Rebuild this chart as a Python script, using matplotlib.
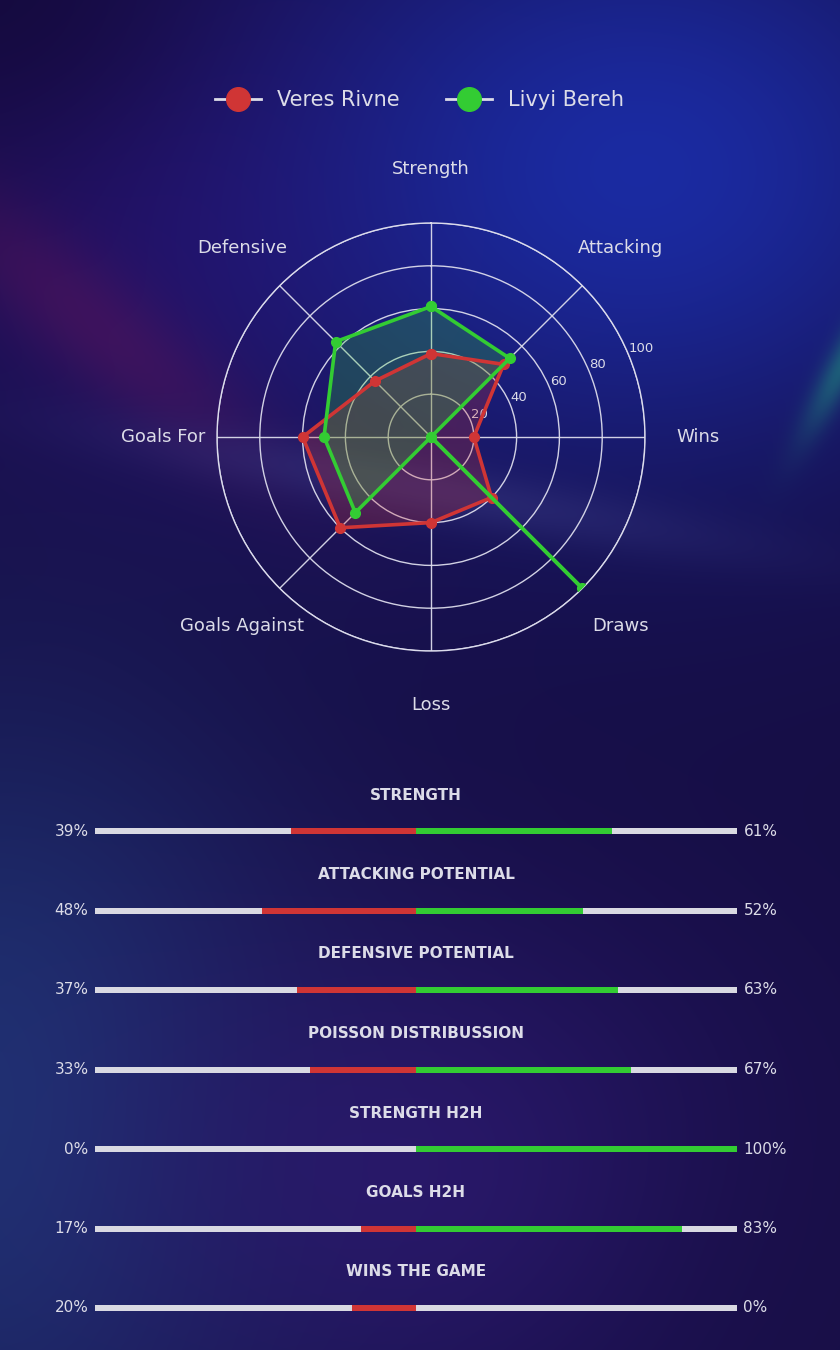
import numpy as np
import matplotlib
matplotlib.use('Agg')
import matplotlib.pyplot as plt
from matplotlib.lines import Line2D
from matplotlib.colors import to_rgb

# radar data
categories = ['Strength', 'Attacking', 'Wins', 'Draws', 'Loss',
              'Goals Against', 'Goals For', 'Defensive']
veres = [39, 48, 20, 40, 40, 60, 60, 37]
livyi = [61, 52, 0, 100, 0, 50, 50, 63]
teams = ['Veres Rivne', 'Livyi Bereh']

# comparison bars
bar_titles = ['STRENGTH', 'ATTACKING POTENTIAL', 'DEFENSIVE POTENTIAL',
              'POISSON DISTRIBUSSION', 'STRENGTH H2H', 'GOALS H2H', 'WINS THE GAME']
left_pct = [39, 48, 37, 33, 0, 17, 20]
right_pct = [61, 52, 63, 67, 100, 83, 0]

RED = '#d03535'
GREEN = '#33cc33'
TXT = '#dcdce8'
GRID = '#dcdcec'

W, H = 840, 1350
fig = plt.figure(figsize=(W / 100, H / 100), dpi=100)

# ---- background ----
yy, xx = np.mgrid[0:H, 0:W].astype(float)
img = np.ones((H, W, 3)) * np.array(to_rgb('#160e45'))


def blob(cx, cy, sx, sy, color, a, ang=0.0):
    global img
    t = np.deg2rad(ang)
    dx, dy = xx - cx, yy - cy
    u = dx * np.cos(t) + dy * np.sin(t)
    v = -dx * np.sin(t) + dy * np.cos(t)
    w = a * np.exp(-(u ** 2 / sx ** 2 + v ** 2 / sy ** 2))
    img = img * (1 - w[..., None]) + np.array(to_rgb(color)) * w[..., None]


blob(180, 220, 300, 260, '#2a0e6a', 0.7)
blob(640, 170, 380, 300, '#1b2ca6', 0.95)
blob(90, 320, 230, 55, '#6a1458', 0.4, ang=40)
blob(430, 490, 300, 30, '#3c3c86', 0.45, ang=10)
blob(845, 360, 80, 16, '#22a080', 0.5, ang=-62)
blob(0, 0, 200, 160, '#120835', 0.6)
blob(0, 1120, 300, 420, '#20397a', 0.85)
blob(420, 1170, 320, 260, '#2e1a72', 0.75)
blob(840, 1300, 200, 220, '#1a0f48', 0.5)

bg = fig.add_axes([0, 0, 1, 1])
bg.imshow(np.clip(img, 0, 1), aspect='auto', extent=[0, W, H, 0])
bg.axis('off')

# ---- radar ----
cx, cy, R = 431, 437, 214
ax = fig.add_axes([(cx - R) / W, (H - cy - R) / H, 2 * R / W, 2 * R / H],
                  projection='polar')
ax.set_theta_zero_location('N')
ax.set_theta_direction(-1)
ax.patch.set_alpha(0)

angles = np.linspace(0, 2 * np.pi, len(categories), endpoint=False)
ang_c = np.append(angles, angles[0])

for vals, col in [(veres, RED), (livyi, GREEN)]:
    v = np.append(vals, vals[0])
    ax.fill(ang_c, v, color=col, alpha=0.25, zorder=2)
    ax.plot(ang_c, v, color=col, lw=2.6, marker='o', ms=7, zorder=3)

ax.set_ylim(0, 100)
ax.set_yticks([20, 40, 60, 80, 100])
ax.set_yticklabels(['20', '40', '60', '80', '100'], color=TXT, fontsize=9.5)
ax.set_rlabel_position(67.5)
ax.set_xticks(angles)
ax.set_xticklabels([])
ax.grid(color=GRID, lw=1.0, alpha=0.95)
ax.spines['polar'].set_color(GRID)
ax.spines['polar'].set_linewidth(1.0)
ax.tick_params(axis='x', length=0)

for a, lab in zip(angles, categories):
    ax.text(a, 125, lab, ha='center', va='center', color=TXT, fontsize=13,
            clip_on=False)

handles = [Line2D([0], [0], color=TXT, lw=2, marker='o', ms=17,
                  markerfacecolor=c, markeredgecolor=c) for c in (RED, GREEN)]
fig.legend(handles, teams, loc='center', bbox_to_anchor=(0.4994, 1 - 100 / H),
           ncol=2, frameon=False, fontsize=15, labelcolor=TXT,
           handlelength=2.2, columnspacing=2.2, handletextpad=0.8)

# ---- comparison bars ----
row0, step = 831, 79.5
top_px, bot_px = 760, 1340
bx = fig.add_axes([95 / W, (H - bot_px) / H, (737 - 95) / W, (bot_px - top_px) / H])
bx.patch.set_alpha(0)
bx.set_xlim(-100, 100)
bx.set_ylim(6 + (bot_px - 1308) / step, -(row0 - top_px) / step)
bx.axis('off')

idx = np.arange(len(bar_titles))
bh = 6 / step
bx.barh(idx, 200, left=-100, height=bh, color='#d9d9e2', zorder=1)
bx.barh(idx, -np.array(left_pct), left=0, height=bh, color=RED, zorder=2)
bx.barh(idx, right_pct, left=0, height=bh, color=GREEN, zorder=2)

for i, (t, l, r) in enumerate(zip(bar_titles, left_pct, right_pct)):
    bx.text(0, i - 36 / step, t, ha='center', va='center', color=TXT,
            fontsize=11, fontweight='bold')
    bx.text(-102, i, f'{l}%', ha='right', va='center', color=TXT, fontsize=11)
    bx.text(102, i, f'{r}%', ha='left', va='center', color=TXT, fontsize=11)

fig.savefig('out.png', dpi=100)
